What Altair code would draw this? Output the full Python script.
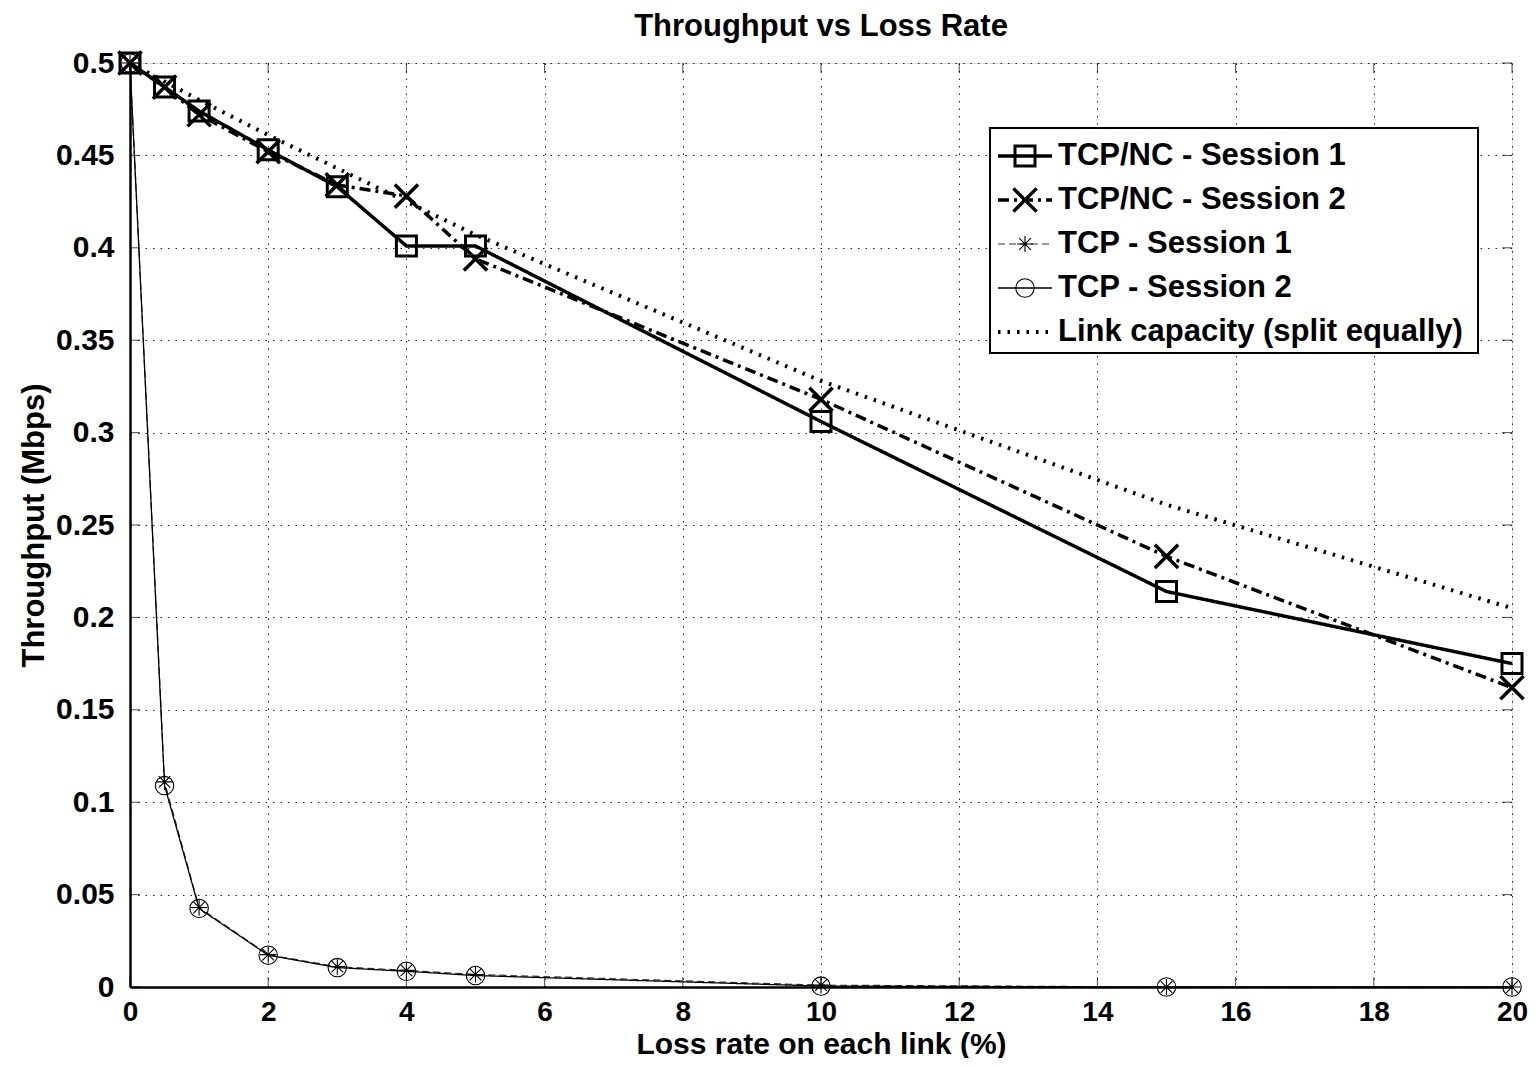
import altair as alt
import pandas as pd

# ---------------- data ----------------
x_vals = [0, 0.5, 1, 2, 3, 4, 5, 10, 15, 20]
nc_s1 = [0.500, 0.487, 0.474, 0.453, 0.433, 0.401, 0.401, 0.306, 0.214, 0.175]
nc_s2 = [0.500, 0.487, 0.472, 0.452, 0.434, 0.428, 0.394, 0.318, 0.233, 0.162]
tcp_s1 = [0.500, 0.111, 0.043, 0.0175, 0.011, 0.009, 0.0068, 0.001, 0.000, 0.000]
tcp_s2 = [0.500, 0.109, 0.0425, 0.0172, 0.0105, 0.0085, 0.0062, 0.0005, 0.000, 0.000]
capacity = [0.500, 0.490, 0.480, 0.461, 0.443, 0.425, 0.407, 0.328, 0.261, 0.205]

x_ticks = [0, 2, 4, 6, 8, 10, 12, 14, 16, 18, 20]
y_ticks = [0, 0.05, 0.1, 0.15, 0.2, 0.25, 0.3, 0.35, 0.4, 0.45, 0.5]

series_labels = ["TCP/NC - Session 1", "TCP/NC - Session 2", "TCP - Session 1",
                 "TCP - Session 2", "Link capacity (split equally)"]

title_text = "Throughput vs Loss Rate"
x_title = "Loss rate on each link (%)"
y_title = "Throughput (Mbps)"

# ---------------- layout / style ----------------
W, H = 1382, 924
FONT = "Liberation Sans"
XPATH = "M-1,-1L1,1M-1,1L1,-1"
STAR = "M-1,0L1,0M0,-1L0,1M-0.72,-0.72L0.72,0.72M-0.72,0.72L0.72,-0.72"

df = pd.DataFrame({"x": x_vals, "nc1": nc_s1, "nc2": nc_s2,
                   "tcp1": tcp_s1, "tcp2": tcp_s2, "cap": capacity})
xt = pd.DataFrame({"v": x_ticks})
yt = pd.DataFrame({"v": y_ticks})

xs = alt.Scale(domain=[0, 20], nice=False, zero=False)
ys = alt.Scale(domain=[0, 0.5], nice=False, zero=False)

common_axis = dict(grid=True, ticks=False, format="~g",
                   labelFont=FONT, labelFontWeight="bold", labelColor="black",
                   titleFont=FONT, titleFontWeight="bold", titleColor="black",
                   gridDash=[1.5, 6], gridColor="#222", gridWidth=1, gridOpacity=1,
                   domainColor="black", domainWidth=2.5)
xaxis = alt.Axis(title=x_title, values=x_ticks, labelFontSize=28, labelPadding=11,
                 titleFontSize=30, titlePadding=3,
                 labelFlush=False, labelOverlap=False, **common_axis)
yaxis = alt.Axis(title=y_title, values=y_ticks, labelFontSize=30, labelPadding=16,
                 titleFontSize=31, titlePadding=5,
                 labelOverlap=False, **common_axis)

X = alt.X("x:Q", scale=xs, axis=xaxis)

styles = {
    "nc1": dict(width=3.5, dash=[1, 0], shape="square", size=400, mw=3, color="black"),
    "nc2": dict(width=3.5, dash=[11, 5, 3, 5], shape=XPATH, size=540, mw=3.5, color="black"),
    "tcp1": dict(width=1.2, dash=[7, 4], shape=STAR, size=260, mw=1.1, color="#333"),
    "tcp2": dict(width=1.3, dash=[1, 0], shape="circle", size=340, mw=1.1, color="black"),
    "cap": dict(width=4, dash=[2.5, 7], shape=None, size=0, mw=0, color="black"),
}
order = ["cap", "tcp1", "tcp2", "nc2", "nc1"]

layers = []
for key in order:
    st = styles[key]
    Y = alt.Y(f"{key}:Q", scale=ys, axis=yaxis)
    layers.append(alt.Chart(df).mark_line(color=st["color"], strokeWidth=st["width"],
                                          strokeDash=st["dash"], clip=False)
                  .encode(x=X, y=Y))
    if st["shape"]:
        layers.append(alt.Chart(df).mark_point(shape=st["shape"], size=st["size"], filled=False,
                                               stroke="black", strokeWidth=st["mw"], opacity=1)
                      .encode(x=X, y=Y))

# inward ticks on all four sides (MATLAB style)
TL = 10
XT = alt.X("v:Q", scale=xs, axis=xaxis)
YT = alt.Y("v:Q", scale=ys, axis=yaxis)
layers.append(alt.Chart(xt).mark_tick(color="black", size=TL, thickness=1)
              .encode(x=XT, y=alt.value(H - TL / 2)))
layers.append(alt.Chart(xt).mark_tick(color="black", size=TL, thickness=1)
              .encode(x=XT, y=alt.value(TL / 2)))
layers.append(alt.Chart(yt).mark_tick(color="black", size=TL, thickness=1)
              .encode(y=YT, x=alt.value(TL / 2)))
layers.append(alt.Chart(yt).mark_tick(color="black", size=TL, thickness=1)
              .encode(y=YT, x=alt.value(W - TL / 2)))

# ---------------- title (as text so it is not clipped) ----------------
one = alt.Data(values=[{"k": 0}])
layers.append(alt.Chart(one).mark_text(text=title_text, font=FONT, fontSize=31, fontWeight="bold",
                                       align="center", baseline="middle", color="black")
              .encode(x=alt.value(W / 2), y=alt.value(-36)))

# ---------------- legend ----------------
LX0, LX1, LY0, LY1 = 860, 1348, 65, 290
layers.append(alt.Chart(one).mark_rect(fill="white", stroke="black", strokeWidth=2)
              .encode(x=alt.value(LX0), x2=alt.value(LX1), y=alt.value(LY0), y2=alt.value(LY1)))
row_y = [93, 137, 181, 225, 269]
keys = ["nc1", "nc2", "tcp1", "tcp2", "cap"]
for key, lab, ry in zip(keys, series_labels, row_y):
    st = styles[key]
    layers.append(alt.Chart(one).mark_rule(color=st["color"], strokeWidth=st["width"],
                                           strokeDash=st["dash"])
                  .encode(x=alt.value(868), x2=alt.value(922), y=alt.value(ry)))
    if st["shape"]:
        layers.append(alt.Chart(one).mark_point(shape=st["shape"], size=st["size"], filled=False,
                                                stroke="black", strokeWidth=st["mw"], opacity=1)
                      .encode(x=alt.value(895), y=alt.value(ry)))
    layers.append(alt.Chart(one).mark_text(text=lab, font=FONT, fontSize=31, fontWeight="bold",
                                           align="left", baseline="middle", color="black")
                  .encode(x=alt.value(928), y=alt.value(ry)))

chart = alt.layer(*layers).properties(
    width=W, height=H,
    autosize=alt.AutoSizeParams(type="none"),
    padding={"left": 122, "top": 55, "right": 18, "bottom": 71},
).configure_view(stroke="black", strokeWidth=1.2).configure(background="white")

chart.save("out.html", embed_options={"renderer": "svg", "actions": False})
